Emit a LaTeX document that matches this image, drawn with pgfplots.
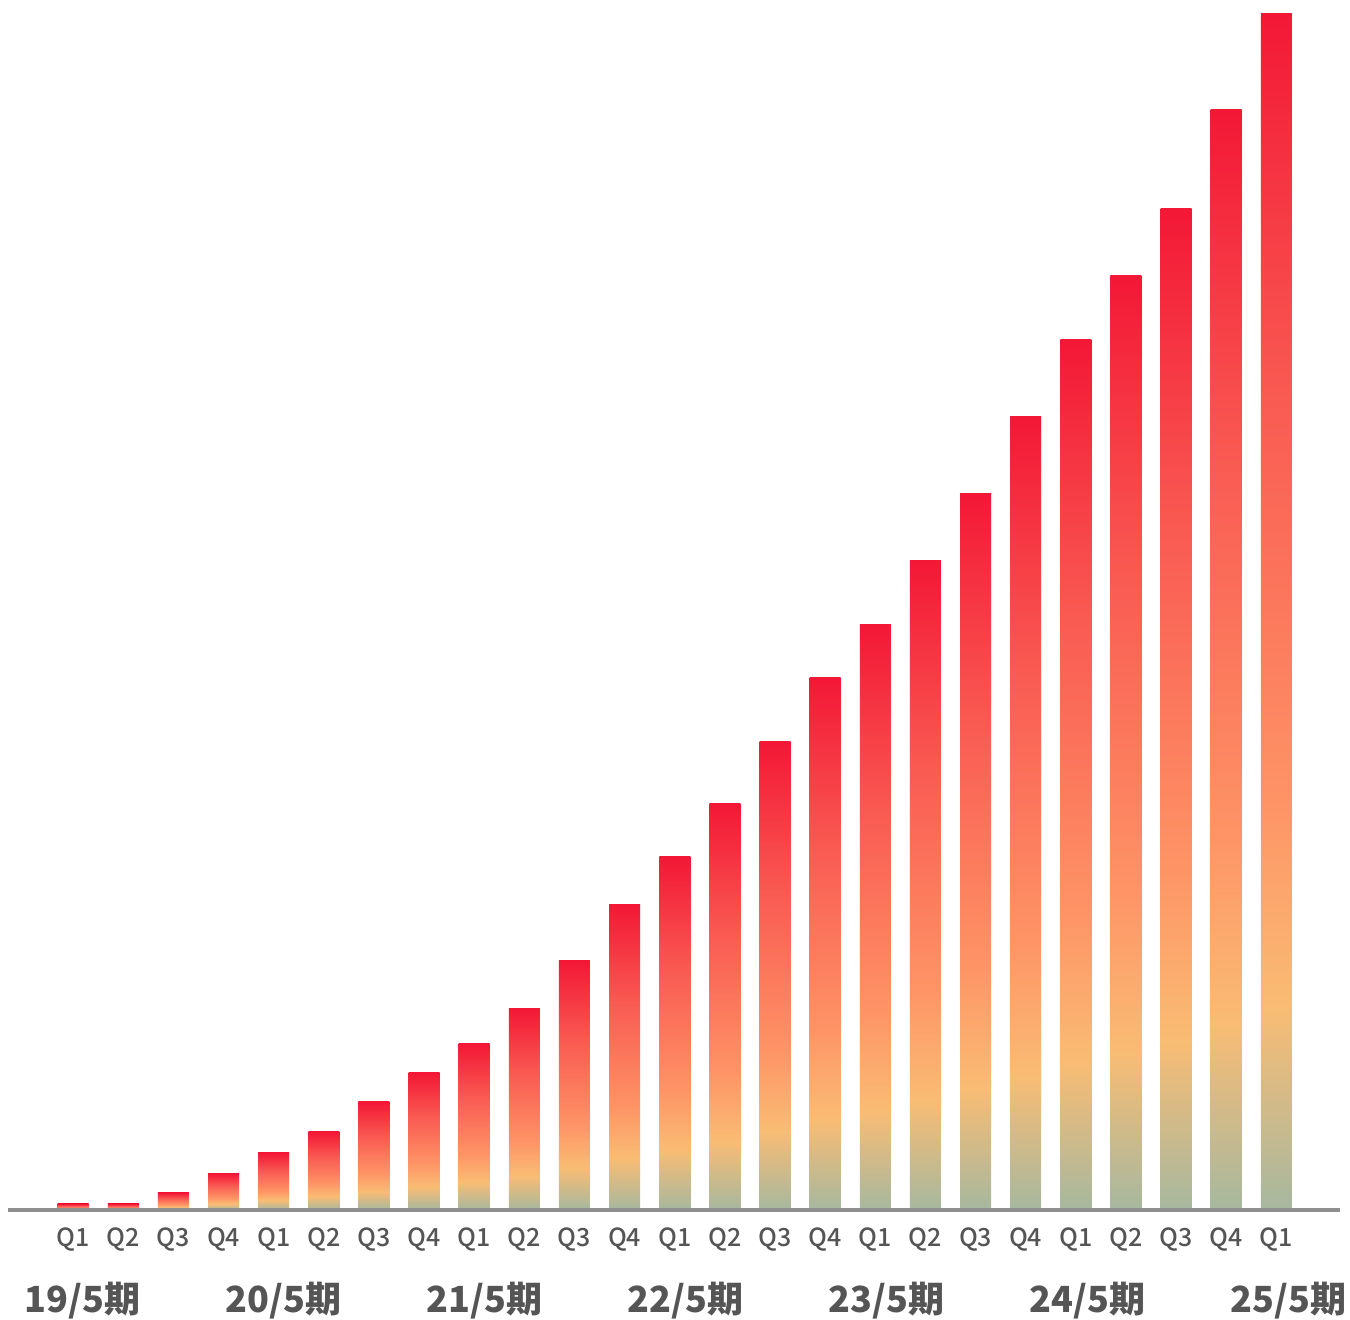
\documentclass[border=0pt]{standalone}
\usepackage{pgfplots}
\pgfplotsset{compat=1.18}
\usepackage{fontspec}
\newfontfamily\cjk{Noto Sans CJK JP}
\newfontfamily\cjkm{Noto Sans CJK JP Medium}
\definecolor{ctop}{HTML}{F31836}
\definecolor{cmid}{HTML}{F95A52}
\definecolor{corg}{HTML}{FE9466}
\definecolor{cyel}{HTML}{F9BC74}
\definecolor{cbot}{HTML}{A6B89F}
\definecolor{cline}{HTML}{8E8E8E}
\definecolor{ctext}{HTML}{555555}
\pgfdeclareverticalshading{barshade}{100bp}{color(0bp)=(cbot); color(25bp)=(cbot); color(33.5bp)=(cyel); color(42bp)=(corg); color(59bp)=(cmid); color(75bp)=(ctop); color(100bp)=(ctop)}
\pgfplotsset{onebar/.style={ybar, bar width=15.5pt, bar shift=0pt, draw=none, shading=barshade, forget plot}}
\begin{document}
\begin{tikzpicture}
\useasboundingbox (0,0) rectangle (675pt,660pt);
\begin{axis}[
  at={(4pt,55pt)}, anchor=south west,
  scale only axis,
  width=666pt, height=605pt,
  xmin=-1.3, xmax=25.27,
  ymin=0, ymax=1210,
  clip=false,
  axis line style={draw=none},
  ytick=\empty,
  major tick length=0pt,
  xtick={0,...,24},
  xticklabels={Q1,Q2,Q3,Q4,Q1,Q2,Q3,Q4,Q1,Q2,Q3,Q4,Q1,Q2,Q3,Q4,Q1,Q2,Q3,Q4,Q1,Q2,Q3,Q4,Q1},
  xticklabel style={anchor=base, yshift=-18.5pt, font=\cjkm\fontsize{12.5}{13}\selectfont, text=ctext},
]
\addplot[onebar] coordinates {(0,6)};
\addplot[onebar] coordinates {(1,6)};
\addplot[onebar] coordinates {(2,17)};
\addplot[onebar] coordinates {(3,36)};
\addplot[onebar] coordinates {(4,57)};
\addplot[onebar] coordinates {(5,78)};
\addplot[onebar] coordinates {(6,108)};
\addplot[onebar] coordinates {(7,137)};
\addplot[onebar] coordinates {(8,166)};
\addplot[onebar] coordinates {(9,201)};
\addplot[onebar] coordinates {(10,249)};
\addplot[onebar] coordinates {(11,305)};
\addplot[onebar] coordinates {(12,353)};
\addplot[onebar] coordinates {(13,406)};
\addplot[onebar] coordinates {(14,468)};
\addplot[onebar] coordinates {(15,532)};
\addplot[onebar] coordinates {(16,585)};
\addplot[onebar] coordinates {(17,649)};
\addplot[onebar] coordinates {(18,716)};
\addplot[onebar] coordinates {(19,793)};
\addplot[onebar] coordinates {(20,870)};
\addplot[onebar] coordinates {(21,934)};
\addplot[onebar] coordinates {(22,1001)};
\addplot[onebar] coordinates {(23,1100)};
\addplot[onebar] coordinates {(24,1196)};
\addplot[sharp plot, draw=cline, line width=2pt, forget plot] coordinates {(-1.3,0) (25.27,0)};
\foreach \lab [count=\k from 0] in {19/5期,20/5期,21/5期,22/5期,23/5期,24/5期,25/5期}{
  \edef\temp{\noexpand\node[anchor=base, text=ctext, font=\noexpand\cjk\noexpand\bfseries\noexpand\fontsize{18}{20}\noexpand\selectfont] at (axis cs:{0.18+4.01*\k},-103) {\lab};}
  \temp
}
\end{axis}
\end{tikzpicture}
\end{document}
